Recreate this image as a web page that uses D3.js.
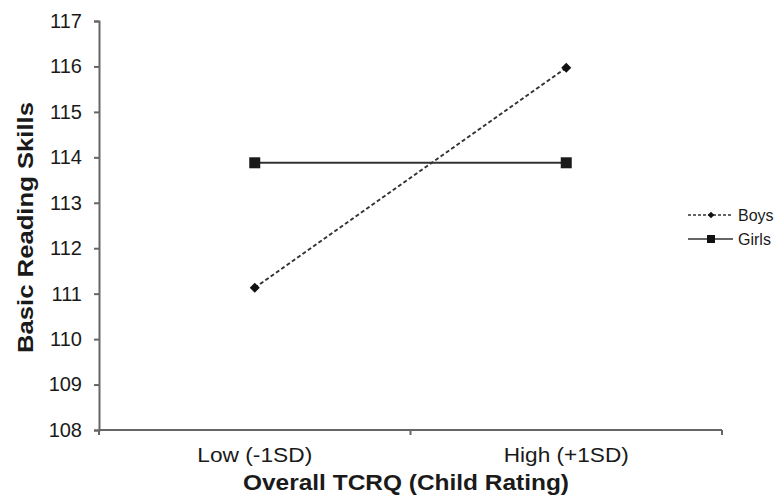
<!DOCTYPE html>
<html>
<head>
<meta charset="utf-8">
<script src="https://cdn.jsdelivr.net/npm/d3@7"></script>
<style>
  body { margin: 0; background: #fff; }
  svg { display: block; font-family: "Liberation Sans", Arial, sans-serif; }
</style>
</head>
<body>
<div id="chart"></div>
<script>
// data
var categories = ["Low (-1SD)", "High (+1SD)"];
var boys = [111.13, 115.97];
var girls = [113.88, 113.88];
var yTicks = [108, 109, 110, 111, 112, 113, 114, 115, 116, 117];
var seriesNames = ["Boys", "Girls"];

var width = 776, height = 502;
var mLeft = 99, mRight = 722, mTop = 21, mBottom = 430;

var svg = d3.select("#chart")
  .append("svg")
    .attr("width", width)
    .attr("height", height);

var x = d3.scaleBand().domain(categories).range([mLeft, mRight]);
var y = d3.scaleLinear().domain([108, 117]).range([mBottom, mTop]);

var axisColor = "#666";

// y axis
var yAxis = svg.append("g")
  .attr("transform", "translate(" + mLeft + ",0)")
  .call(d3.axisLeft(y).tickValues(yTicks).tickSize(5).tickPadding(12).tickFormat(d3.format("d")));
yAxis.select(".domain").attr("stroke", axisColor).attr("stroke-width", 2);
yAxis.selectAll(".tick line").attr("stroke", axisColor).attr("stroke-width", 2);
yAxis.selectAll(".tick text")
  .attr("font-size", 20)
  .attr("fill", "#1a1a1a")
  .attr("font-family", "Liberation Sans, Arial, sans-serif");

// x axis: line with ticks at category boundaries
var xAxis = svg.append("g")
  .attr("transform", "translate(0," + mBottom + ")")
  .call(d3.axisBottom(x).tickSize(0).tickPadding(18));
xAxis.select(".domain").attr("stroke", axisColor).attr("stroke-width", 2)
  .attr("d", "M" + mLeft + ",0H" + mRight);
xAxis.selectAll(".tick text")
  .attr("font-size", 20)
  .attr("fill", "#1a1a1a")
  .attr("font-family", "Liberation Sans, Arial, sans-serif")
  .attr("textLength", function(d, i) { return i == 0 ? 115 : 125; })
  .attr("lengthAdjust", "spacingAndGlyphs");

var bounds = categories.map(function(c) { return x(c); }).concat([x(categories[categories.length - 1]) + x.bandwidth()]);
xAxis.selectAll(".bound")
  .data(bounds)
  .enter().append("line")
    .attr("class", "bound")
    .attr("x1", function(d) { return d; })
    .attr("x2", function(d) { return d; })
    .attr("y1", 0)
    .attr("y2", 5)
    .attr("stroke", axisColor)
    .attr("stroke-width", 2);

// axis titles
svg.append("text")
  .attr("transform", "translate(33," + ((mTop + mBottom) / 2 + 2) + ") rotate(-90)")
  .attr("text-anchor", "middle")
  .attr("font-size", 22)
  .attr("font-weight", "bold")
  .attr("fill", "#1a1a1a")
  .attr("textLength", 251)
  .attr("lengthAdjust", "spacingAndGlyphs")
  .text("Basic Reading Skills");

svg.append("text")
  .attr("x", 406)
  .attr("y", 490)
  .attr("text-anchor", "middle")
  .attr("font-size", 22)
  .attr("font-weight", "bold")
  .attr("fill", "#1a1a1a")
  .attr("textLength", 326)
  .attr("lengthAdjust", "spacingAndGlyphs")
  .text("Overall TCRQ  (Child Rating)");

var cx = function(d, i) { return x(categories[i]) + x.bandwidth() / 2; };
var line = d3.line().x(cx).y(function(d) { return y(d); });

// boys: dashed with diamonds
svg.append("path")
  .datum(boys)
  .attr("d", line)
  .attr("fill", "none")
  .attr("stroke", "#333")
  .attr("stroke-width", 2)
  .attr("stroke-dasharray", "4,2.5");

svg.selectAll(".boys")
  .data(boys)
  .enter().append("path")
    .attr("class", "boys")
    .attr("d", d3.symbol().type(d3.symbolSquare).size(50))
    .attr("transform", function(d, i) { return "translate(" + cx(d, i) + "," + y(d) + ") rotate(45)"; })
    .attr("fill", "#111");

// girls: solid with squares
svg.append("path")
  .datum(girls)
  .attr("d", line)
  .attr("fill", "none")
  .attr("stroke", "#333")
  .attr("stroke-width", 2);

svg.selectAll(".girls")
  .data(girls)
  .enter().append("rect")
    .attr("class", "girls")
    .attr("x", function(d, i) { return cx(d, i) - 5.5; })
    .attr("y", function(d) { return y(d) - 5.5; })
    .attr("width", 11)
    .attr("height", 11)
    .attr("fill", "#1a1a1a");

// legend
var legend = svg.append("g").attr("transform", "translate(688,215)");
seriesNames.forEach(function(name, i) {
  var g = legend.append("g").attr("transform", "translate(0," + i * 24 + ")");
  g.append("line")
    .attr("x1", 0).attr("x2", 45)
    .attr("stroke", "#333")
    .attr("stroke-width", 1.5)
    .attr("stroke-dasharray", i == 0 ? "3,2" : null);
  if (i == 0) {
    g.append("path")
      .attr("d", d3.symbol().type(d3.symbolSquare).size(22))
      .attr("transform", "translate(23,0) rotate(45)")
      .attr("fill", "#111");
  } else {
    g.append("rect")
      .attr("x", 19).attr("y", -4).attr("width", 8).attr("height", 8)
      .attr("fill", "#111");
  }
  g.append("text")
    .attr("x", 50)
    .attr("y", 6)
    .attr("font-size", 16)
    .attr("fill", "#1a1a1a")
    .text(name);
});
</script>
</body>
</html>
